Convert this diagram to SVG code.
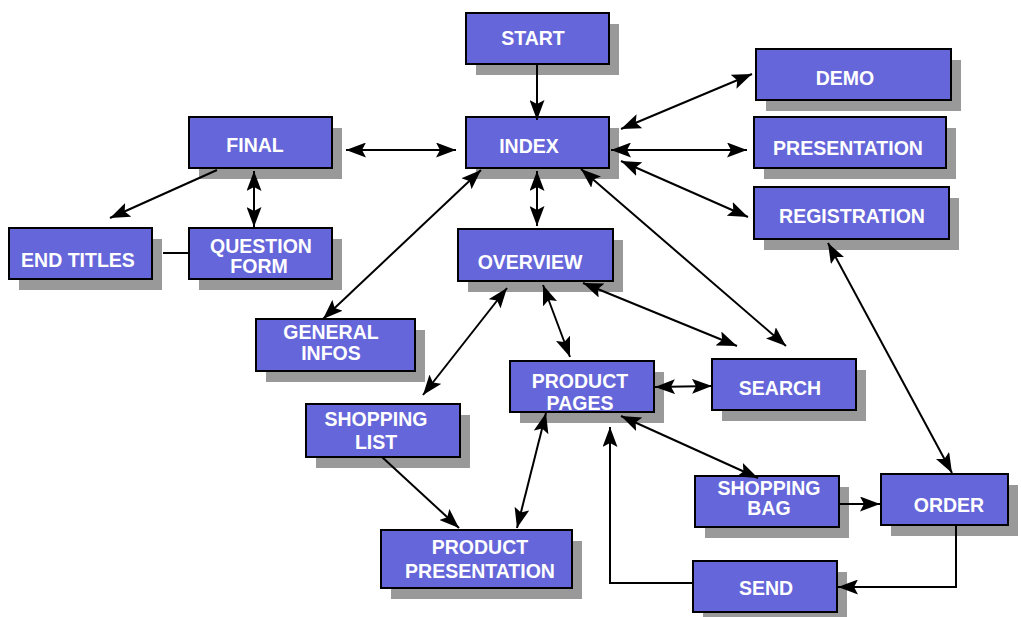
<svg xmlns="http://www.w3.org/2000/svg" width="1021" height="617" viewBox="0 0 1021 617">
<defs>
<style>
.sh{fill:#999999}
.bx{fill:#6566d9;stroke:#000;stroke-width:2}
.t{font-family:"Liberation Sans",Arial,sans-serif;font-weight:bold;font-size:19.5px;fill:#fff;text-anchor:middle}
.c{fill:none;stroke:#000;stroke-width:2}
.a1{marker-end:url(#ah)}
.a2{marker-start:url(#ah);marker-end:url(#ah)}
</style>
<marker id="ah" viewBox="0 0 20 15" refX="20" refY="7.5" markerWidth="20" markerHeight="15" markerUnits="userSpaceOnUse" orient="auto-start-reverse">
<path d="M0,0 L20,7.5 L0,15 L4,7.5 z" fill="#000"/>
</marker>
</defs>
<rect width="1021" height="617" fill="#fff"/>

<g id="start"><rect class="sh" x="476" y="24" width="143" height="51"/><rect class="bx" x="466" y="13" width="143" height="51"/><text class="t" x="533" y="45">START</text></g>
<g id="index"><rect class="sh" x="476" y="128" width="143" height="51"/><rect class="bx" x="466" y="117" width="143" height="51"/><text class="t" x="529" y="153">INDEX</text></g>
<g id="final"><rect class="sh" x="199" y="128" width="143" height="51"/><rect class="bx" x="189" y="117" width="143" height="51"/><text class="t" x="255" y="152">FINAL</text></g>
<g id="end-titles"><rect class="sh" x="19" y="239" width="143" height="51"/><rect class="bx" x="9" y="228" width="143" height="51"/><text class="t" x="78" y="267">END TITLES</text></g>
<g id="question-form"><rect class="sh" x="199" y="239" width="143" height="51"/><rect class="bx" x="189" y="228" width="143" height="51"/><text class="t" x="261" y="253">QUESTION</text><text class="t" x="259" y="273">FORM</text></g>
<g id="demo"><rect class="sh" x="766" y="60" width="195" height="51"/><rect class="bx" x="756" y="49" width="195" height="51"/><text class="t" x="845" y="85">DEMO</text></g>
<g id="presentation"><rect class="sh" x="764" y="128" width="192" height="51"/><rect class="bx" x="754" y="117" width="192" height="51"/><text class="t" x="848" y="155">PRESENTATION</text></g>
<g id="registration"><rect class="sh" x="764" y="198" width="195" height="52"/><rect class="bx" x="754" y="187" width="195" height="52"/><text class="t" x="852" y="223">REGISTRATION</text></g>
<g id="overview"><rect class="sh" x="468" y="240" width="155" height="52"/><rect class="bx" x="458" y="229" width="155" height="52"/><text class="t" x="530" y="269">OVERVIEW</text></g>
<g id="general-infos"><rect class="sh" x="266" y="330" width="159" height="52"/><rect class="bx" x="256" y="319" width="159" height="52"/><text class="t" x="331" y="339">GENERAL</text><text class="t" x="331" y="360">INFOS</text></g>
<g id="product-pages"><rect class="sh" x="520" y="372" width="144" height="51"/><rect class="bx" x="510" y="361" width="144" height="51"/><text class="t" x="580" y="388">PRODUCT</text><text class="t" x="580" y="410">PAGES</text></g>
<g id="search"><rect class="sh" x="722" y="370" width="144" height="51"/><rect class="bx" x="712" y="359" width="144" height="51"/><text class="t" x="780" y="395">SEARCH</text></g>
<g id="shopping-list"><rect class="sh" x="316" y="415" width="154" height="53"/><rect class="bx" x="306" y="404" width="154" height="53"/><text class="t" x="376" y="426">SHOPPING</text><text class="t" x="376" y="449">LIST</text></g>
<g id="product-presentation"><rect class="sh" x="391" y="541" width="191" height="58"/><rect class="bx" x="381" y="530" width="191" height="58"/><text class="t" x="480" y="554">PRODUCT</text><text class="t" x="480" y="578">PRESENTATION</text></g>
<g id="shopping-bag"><rect class="sh" x="705" y="487" width="144" height="51"/><rect class="bx" x="695" y="476" width="144" height="51"/><text class="t" x="769" y="495">SHOPPING</text><text class="t" x="769" y="515">BAG</text></g>
<g id="order"><rect class="sh" x="891" y="485" width="127" height="51"/><rect class="bx" x="881" y="474" width="127" height="51"/><text class="t" x="949" y="512">ORDER</text></g>
<g id="send"><rect class="sh" x="703" y="572" width="144" height="51"/><rect class="bx" x="693" y="561" width="144" height="51"/><text class="t" x="766" y="595">SEND</text></g>

<g id="connectors">
<line class="c a1" x1="537" y1="65" x2="537" y2="120"/>
<line class="c a1" x1="217" y1="170" x2="110" y2="218"/>
<line class="c a2" x1="254" y1="171" x2="254" y2="227"/>
<line class="c" x1="163" y1="253" x2="188" y2="253"/>
<line class="c a2" x1="346" y1="150" x2="456" y2="150"/>
<line class="c a2" x1="621" y1="129" x2="752" y2="74"/>
<line class="c a2" x1="611" y1="150" x2="747" y2="150"/>
<line class="c a2" x1="621" y1="161" x2="748" y2="217"/>
<line class="c a2" x1="581" y1="169" x2="786" y2="346"/>
<line class="c a2" x1="537" y1="171" x2="537" y2="226"/>
<line class="c a2" x1="481" y1="170" x2="323" y2="319"/>
<line class="c a2" x1="583" y1="283" x2="737" y2="346"/>
<line class="c a2" x1="655" y1="387" x2="712" y2="386"/>
<line class="c a2" x1="828" y1="243" x2="952" y2="473"/>
<line class="c a2" x1="543" y1="285" x2="570" y2="357"/>
<line class="c a2" x1="507" y1="288" x2="423" y2="395"/>
<line class="c a1" x1="382" y1="457" x2="459" y2="528"/>
<line class="c a2" x1="517" y1="528" x2="546" y2="413"/>
<line class="c a2" x1="621" y1="416" x2="758" y2="478"/>
<line class="c a1" x1="839" y1="504" x2="880" y2="504"/>
<polyline class="c a1" points="956,526 956,587 838,587"/>
<polyline class="c a1" points="693,583 610,583 610,427"/>
</g>
</svg>
